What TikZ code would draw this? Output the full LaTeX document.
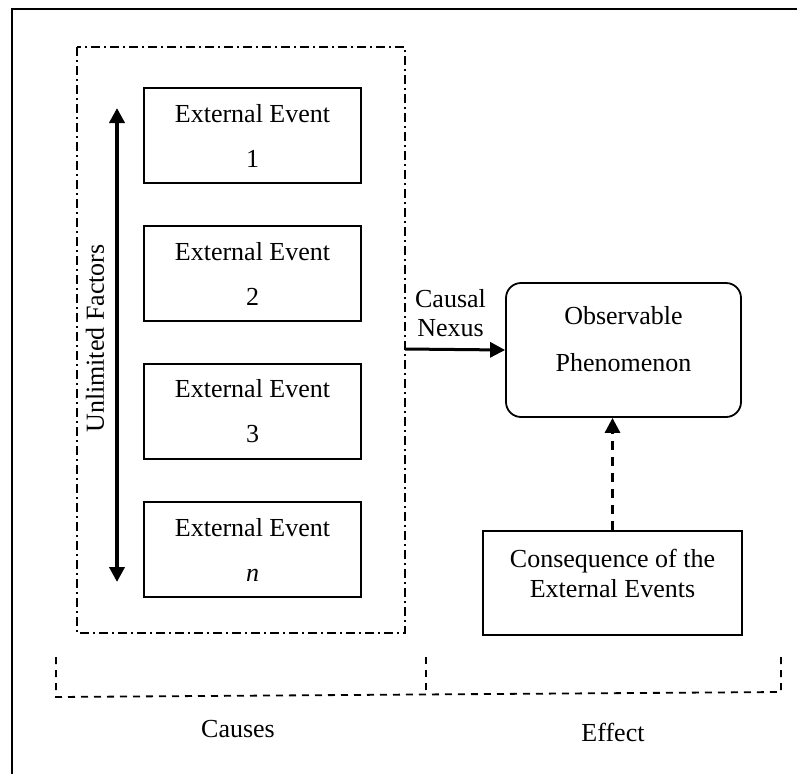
\documentclass[tikz,border=0pt]{standalone}
\usepackage{fontspec}
\setmainfont{Liberation Serif}
\usetikzlibrary{arrows.meta}
\begin{document}
\begin{tikzpicture}[x=1pt,y=-1pt,
  txt/.style={font=\fontsize{26}{45}\selectfont, inner sep=0pt, align=center},
  evbox/.style={draw, line width=1.8pt, minimum width=217pt, minimum height=95pt,
    inner sep=0pt, align=center, font=\fontsize{26}{45}\selectfont},
  plainbox/.style={draw, line width=1.8pt, inner sep=0pt},
  roundbox/.style={plainbox, rounded corners=15pt},
  dashdot/.style={line width=1.6pt, dash pattern=on 9pt off 4pt on 2pt off 4pt},
  brk/.style={line width=1.8pt, dash pattern=on 7pt off 6pt},
  solidarrow/.style={line width=3pt, -{Triangle[length=15pt,width=15pt]}},
  dasharrow/.style={line width=3pt, dash pattern=on 9pt off 7pt, -{Triangle[length=15pt,width=15pt]}},
  frame/.style={line width=1.6pt}
]
\useasboundingbox (0,0) rectangle (797,774);

% page frame (left and top edges)
\draw[frame] (12,774) -- (12,9) -- (797,9);

% group of causes
\coordinate (grpTL) at (77,47);
\coordinate (grpBR) at (405,633);
\draw[dashdot] (grpTL) rectangle (grpBR);

% external events
\node[evbox] (ev1) at (252.5,135.5) {External Event\\1};
\node[evbox] (ev2) at (252.5,273.5) {External Event\\2};
\node[evbox] (ev3) at (252.5,411.5) {External Event\\3};
\node[evbox] (evn) at (252.5,549.5) {External Event\\\textit{n}};

% unlimited factors double arrow
\coordinate (ufTop) at (117,108);
\coordinate (ufBot) at (117,582);
\draw[line width=4pt, {Triangle[length=15pt,width=15pt]}-{Triangle[length=15pt,width=15pt]}] (ufTop) -- (ufBot);
\node[txt, rotate=90] (uflabel) at (95,338.5) {Unlimited Factors};

% observable phenomenon
\node[roundbox, minimum width=235pt, minimum height=134pt] (obs) at (623.5,350) {};
\node[txt, font=\fontsize{26}{47}\selectfont] (obstext) at (623.5,339.5) {Observable\\Phenomenon};

% causal nexus
\coordinate (nexusStart) at (405,349);
\draw[solidarrow] (nexusStart) -- (obs.west);
\node[txt, font=\fontsize{26}{29}\selectfont] (nexus) at (450.5,313.5) {Causal\\Nexus};

% consequence
\node[plainbox, minimum width=259pt, minimum height=104pt] (cons) at (612.5,583) {};
\node[txt, font=\fontsize{26}{30}\selectfont] (constext) at (612.5,573) {Consequence of the\\External Events};
\draw[dasharrow] (cons.north) -- (cons.north |- obs.south);

% brackets under causes and effect
\coordinate (bLT) at (56,657);
\coordinate (bLB) at (56,697);
\coordinate (bRB) at (781,692);
\coordinate (bRT) at (781,655);
\coordinate (bMT) at (426,657);
\coordinate (bMB) at (426,694.6);
\draw[brk] (bLT) -- (bLB) -- (bRB) -- (bRT);
\draw[brk] (bMT) -- (bMB);

\node[txt] (causes) at (238,729) {Causes};
\node[txt] (effect) at (613,732) {Effect};
\end{tikzpicture}
\end{document}
